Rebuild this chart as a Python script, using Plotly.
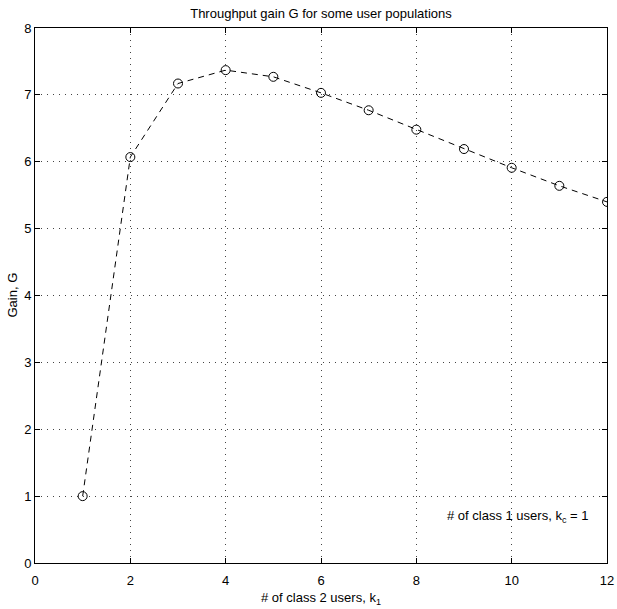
import plotly.graph_objects as go

# Number of class 2 users and the resulting throughput gain
k1 = [1, 2, 3, 4, 5, 6, 7, 8, 9, 10, 11, 12]
gain = [1.00, 6.07, 7.17, 7.37, 7.27, 7.03, 6.77, 6.48, 6.19, 5.91, 5.64, 5.40]

x_ticks = [0, 2, 4, 6, 8, 10, 12]
y_ticks = [0, 1, 2, 3, 4, 5, 6, 7, 8]

FONT = "Liberation Sans, Arial, Helvetica, sans-serif"
FS = 13

fig = go.Figure()
fig.add_trace(go.Scatter(
    x=k1, y=gain,
    mode="lines+markers",
    line=dict(color="black", width=1, dash="6px,5px"),
    marker=dict(symbol="circle-open", size=9, color="black", line=dict(width=1, color="black")),
    showlegend=False,
))

axis_common = dict(
    showgrid=True,
    gridcolor="#444444",
    griddash="1px,5px",
    gridwidth=1,
    showline=True,
    linecolor="black",
    linewidth=1,
    mirror="ticks",
    ticks="inside",
    ticklen=5,
    tickcolor="black",
    tickfont=dict(family=FONT, size=FS, color="black"),
    zeroline=False,
    automargin=False,
)

text_font = dict(family=FONT, size=FS, color="black")

fig.update_layout(
    width=617, height=609,
    margin=dict(l=35, r=10, t=28, b=46),
    paper_bgcolor="white",
    plot_bgcolor="white",
    font=text_font,
    title=dict(text="Throughput gain G for some user populations",
               x=0.5, xref="paper", y=1 - 13 / 609, yanchor="middle",
               font=text_font),
    xaxis=dict(range=[0, 12], tickvals=x_ticks, ticktext=[str(v) for v in x_ticks],
               ticklabelstandoff=5, **axis_common),
    yaxis=dict(range=[0, 8], tickvals=y_ticks, ticktext=[str(v) for v in y_ticks],
               **axis_common),
    annotations=[
        # axis titles
        dict(text="# of class 2 users, k<sub>1</sub>",
             x=0.5, y=0, xref="paper", yref="paper",
             xanchor="center", yanchor="middle", yshift=-35,
             showarrow=False, font=text_font),
        dict(text="Gain, G", textangle=-90,
             x=0, y=0.5, xref="paper", yref="paper",
             xanchor="center", yanchor="middle", xshift=-23,
             showarrow=False, font=text_font),
        # population note
        dict(text="# of class 1 users, k<sub>c</sub> = 1",
             x=10.13, y=0.70, xref="x", yref="y",
             xanchor="center", yanchor="middle", showarrow=False,
             font=text_font),
    ],
)

fig.write_html("out.html")
